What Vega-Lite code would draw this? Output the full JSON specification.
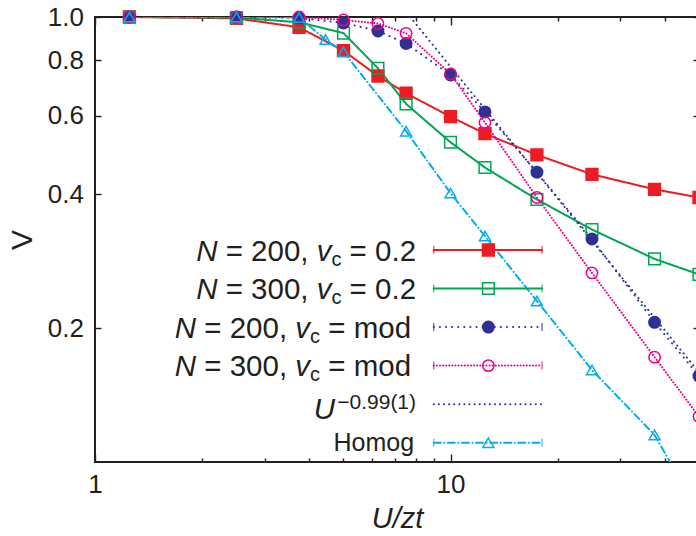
{
  "$schema": "https://vega.github.io/schema/vega-lite/v6.json",
  "width": 604,
  "height": 445,
  "autosize": "none",
  "padding": {"left": 95, "top": 17, "right": 0, "bottom": 74},
  "background": "white",
  "config": {
    "font": "Liberation Sans",
    "view": {"stroke": "#231f20", "strokeWidth": 2},
    "axis": {"domain": false, "grid": false, "tickColor": "#231f20", "tickWidth": 1.4, "labelColor": "#231f20", "titleColor": "#231f20", "labelFontSize": 26, "labelFont": "Liberation Sans", "titleFont": "Liberation Sans", "titleFontWeight": "normal"}
  },
  "datasets": {
    "series": [
      {"series": "N200_02", "x": 1.25, "V": 1.0}, {"series": "N200_02", "x": 2.5, "V": 0.993}, {"series": "N200_02", "x": 3.75, "V": 0.948}, {"series": "N200_02", "x": 5, "V": 0.84}, {"series": "N200_02", "x": 6.25, "V": 0.737}, {"series": "N200_02", "x": 7.5, "V": 0.674}, {"series": "N200_02", "x": 10, "V": 0.597}, {"series": "N200_02", "x": 12.5, "V": 0.547}, {"series": "N200_02", "x": 17.5, "V": 0.49}, {"series": "N200_02", "x": 25, "V": 0.443}, {"series": "N200_02", "x": 37.5, "V": 0.41}, {"series": "N200_02", "x": 50, "V": 0.393},
      {"series": "N300_02", "x": 1.25, "V": 1.0}, {"series": "N300_02", "x": 2.5, "V": 0.997}, {"series": "N300_02", "x": 3.75, "V": 0.973}, {"series": "N300_02", "x": 5, "V": 0.92}, {"series": "N300_02", "x": 6.25, "V": 0.767}, {"series": "N300_02", "x": 7.5, "V": 0.638}, {"series": "N300_02", "x": 10, "V": 0.523}, {"series": "N300_02", "x": 12.5, "V": 0.459}, {"series": "N300_02", "x": 17.5, "V": 0.389}, {"series": "N300_02", "x": 25, "V": 0.333}, {"series": "N300_02", "x": 37.5, "V": 0.286}, {"series": "N300_02", "x": 50, "V": 0.264},
      {"series": "N200_mod", "x": 1.25, "V": 1.0}, {"series": "N200_mod", "x": 2.5, "V": 1.0}, {"series": "N200_mod", "x": 3.75, "V": 0.995}, {"series": "N200_mod", "x": 5, "V": 0.97}, {"series": "N200_mod", "x": 6.25, "V": 0.93}, {"series": "N200_mod", "x": 7.5, "V": 0.872}, {"series": "N200_mod", "x": 10, "V": 0.741}, {"series": "N200_mod", "x": 12.5, "V": 0.612}, {"series": "N200_mod", "x": 17.5, "V": 0.448}, {"series": "N200_mod", "x": 25, "V": 0.317}, {"series": "N200_mod", "x": 37.5, "V": 0.206}, {"series": "N200_mod", "x": 50, "V": 0.156},
      {"series": "N300_mod", "x": 1.25, "V": 1.0}, {"series": "N300_mod", "x": 2.5, "V": 1.0}, {"series": "N300_mod", "x": 3.75, "V": 1.0}, {"series": "N300_mod", "x": 5, "V": 0.985}, {"series": "N300_mod", "x": 6.25, "V": 0.967}, {"series": "N300_mod", "x": 7.5, "V": 0.919}, {"series": "N300_mod", "x": 10, "V": 0.745}, {"series": "N300_mod", "x": 12.5, "V": 0.579}, {"series": "N300_mod", "x": 17.5, "V": 0.393}, {"series": "N300_mod", "x": 25, "V": 0.266}, {"series": "N300_mod", "x": 37.5, "V": 0.172}, {"series": "N300_mod", "x": 50, "V": 0.1265},
      {"series": "Homog", "x": 1.25, "V": 1.0}, {"series": "Homog", "x": 2.5, "V": 1.0}, {"series": "Homog", "x": 3.75, "V": 0.998}, {"series": "Homog", "x": 4.45, "V": 0.89}, {"series": "Homog", "x": 5, "V": 0.835}, {"series": "Homog", "x": 7.5, "V": 0.554}, {"series": "Homog", "x": 10, "V": 0.402}, {"series": "Homog", "x": 12.5, "V": 0.322}, {"series": "Homog", "x": 17.5, "V": 0.23}, {"series": "Homog", "x": 25, "V": 0.161}, {"series": "Homog", "x": 37.5, "V": 0.115}, {"series": "Homog", "x": 50, "V": 0.077},
      {"series": "fit", "x": 7.7, "V": 1.0}, {"series": "fit", "x": 50, "V": 0.159}
    ],
    "legend": [
      {"series": "N200_02", "pN": "N", "pB": "= 200,", "pV": "v", "pC": "c", "pE": "= 0.2"},
      {"series": "N300_02", "pN": "N", "pB": "= 300,", "pV": "v", "pC": "c", "pE": "= 0.2"},
      {"series": "N200_mod", "pN": "N", "pB": "= 200,", "pV": "v", "pC": "c", "pE": "= mod"},
      {"series": "N300_mod", "pN": "N", "pB": "= 300,", "pV": "v", "pC": "c", "pE": "= mod"},
      {"series": "fit", "pU": "U", "pSup": "−0.99(1)"},
      {"series": "Homog", "pH": "Homog"}
    ]
  },
  "layer": [
    {
      "data": {"name": "series"},
      "transform": [{"filter": "datum.series == 'fit'"}],
      "mark": {"type": "line", "clip": true, "strokeCap": "round"},
      "encoding": {
        "x": {"field": "x", "type": "quantitative", "scale": {"type": "log", "domain": [1, 50], "nice": false},
              "axis": {"orient": "top", "values": [1, 2, 3, 4, 5, 6, 7, 8, 9, 10, 20, 30, 40, 50], "labels": false, "title": null,
                       "tickSize": {"condition": {"test": "datum.value == 1 || datum.value == 10", "value": -8}, "value": -4}}},
        "y": {"field": "V", "type": "quantitative", "scale": {"type": "log", "domain": [0.1, 1], "nice": false},
              "axis": {"orient": "right", "values": [0.2, 0.4, 0.6, 0.8, 1.0], "labels": false, "title": null, "tickSize": -6}},
        "color": {"field": "series", "type": "nominal", "legend": null,
                  "scale": {"domain": ["N200_02", "N300_02", "N200_mod", "N300_mod", "fit", "Homog"], "range": ["#ed1c24", "#00a651", "#2e3192", "#ec008c", "#2e3192", "#00aeef"]}},
        "strokeDash": {"field": "series", "type": "nominal", "legend": null,
                  "scale": {"domain": ["N200_02", "N300_02", "N200_mod", "N300_mod", "fit", "Homog"], "range": [[1, 0], [1, 0], [0.1, 6], [0.1, 3], [0.1, 5], [7, 3.5, 0.1, 3.5]]}},
        "strokeWidth": {"field": "series", "type": "nominal", "legend": null,
                  "scale": {"domain": ["N200_02", "N300_02", "N200_mod", "N300_mod", "fit", "Homog"], "range": [2, 2, 2.6, 1.6, 2.2, 1.6]}}
      }
    },
    {
      "data": {"name": "series"},
      "encoding": {
        "x": {"field": "x", "type": "quantitative", "scale": {"type": "log", "domain": [1, 50], "nice": false},
              "axis": {"orient": "bottom", "values": [1, 2, 3, 4, 5, 6, 7, 8, 9, 10, 20, 30, 40, 50], "format": "d",
                       "labelExpr": "(datum.value == 1 || datum.value == 10) ? datum.label : ''", "labelFlush": false, "labelOverlap": false,
                       "tickSize": {"condition": {"test": "datum.value == 1 || datum.value == 10", "value": -8}, "value": -4},
                       "labelPadding": 17, "title": "U/zt", "titleFontStyle": "italic", "titleFontSize": 29, "titlePadding": 3}},
        "y": {"field": "V", "type": "quantitative", "scale": {"type": "log", "domain": [0.1, 1], "nice": false},
              "axis": {"orient": "left", "values": [0.2, 0.4, 0.6, 0.8, 1.0], "format": ".1f", "tickSize": -6, "labelPadding": 17.5,
                       "title": "V", "titleFontSize": 30, "titlePadding": 10}}
      },
      "layer": [
        {
          "mark": {"type": "line", "clip": true, "strokeCap": "round"},
          "transform": [{"filter": "datum.series != 'fit'"}],
          "encoding": {
            "color": {"field": "series", "type": "nominal", "legend": null,
                      "scale": {"domain": ["N200_02", "N300_02", "N200_mod", "N300_mod", "fit", "Homog"], "range": ["#ed1c24", "#00a651", "#2e3192", "#ec008c", "#2e3192", "#00aeef"]}},
            "strokeDash": {"field": "series", "type": "nominal", "legend": null,
                      "scale": {"domain": ["N200_02", "N300_02", "N200_mod", "N300_mod", "fit", "Homog"], "range": [[1, 0], [1, 0], [0.1, 6], [0.1, 3], [0.1, 5], [7, 3.5, 0.1, 3.5]]}},
            "strokeWidth": {"field": "series", "type": "nominal", "legend": null,
                      "scale": {"domain": ["N200_02", "N300_02", "N200_mod", "N300_mod", "fit", "Homog"], "range": [2, 2, 2.6, 1.6, 2.2, 1.6]}}
          }
        },
        {
          "mark": {"type": "point", "filled": false, "opacity": 1, "strokeWidth": 1.5},
          "transform": [{"filter": "datum.series != 'fit' && datum.V >= 0.1"}],
          "encoding": {
            "stroke": {"field": "series", "type": "nominal", "legend": null,
                      "scale": {"domain": ["N200_02", "N300_02", "N200_mod", "N300_mod", "fit", "Homog"], "range": ["#ed1c24", "#00a651", "#2e3192", "#ec008c", "#2e3192", "#00aeef"]}},
            "fill": {"field": "series", "type": "nominal", "legend": null,
                      "scale": {"domain": ["N200_02", "N300_02", "N200_mod", "N300_mod", "fit", "Homog"], "range": ["#ed1c24", "transparent", "#2e3192", "transparent", "transparent", "transparent"]}},
            "shape": {"field": "series", "type": "nominal", "legend": null,
                      "scale": {"domain": ["N200_02", "N300_02", "N200_mod", "N300_mod", "fit", "Homog"], "range": ["square", "square", "circle", "circle", "circle", "triangle-up"]}},
            "size": {"field": "series", "type": "nominal", "legend": null,
                      "scale": {"domain": ["N200_02", "N300_02", "N200_mod", "N300_mod", "fit", "Homog"], "range": [140, 120, 95, 110, 95, 110]}}
          }
        }
      ]
    },
    {
      "data": {"name": "legend"},
      "encoding": {
        "y": {"field": "series", "type": "nominal", "axis": null,
              "scale": {"type": "point", "domain": ["N200_02", "N300_02", "N200_mod", "N300_mod", "fit", "Homog"], "range": [233, 425.7], "padding": 0}}
      },
      "layer": [
        {
          "mark": {"type": "rule", "strokeCap": "round"},
          "encoding": {
            "x": {"datum": 8.97, "type": "quantitative", "axis": null},
            "x2": {"datum": 18.09},
            "color": {"field": "series", "type": "nominal", "legend": null},
            "strokeDash": {"field": "series", "type": "nominal", "legend": null},
            "strokeWidth": {"field": "series", "type": "nominal", "legend": null}
          }
        },
        {
          "mark": {"type": "tick", "thickness": 1.4, "size": 8},
          "transform": [{"filter": "datum.series != 'fit'"}],
          "encoding": {
            "x": {"datum": 8.97, "type": "quantitative", "axis": null},
            "color": {"field": "series", "type": "nominal", "legend": null}
          }
        },
        {
          "mark": {"type": "tick", "thickness": 1.4, "size": 8},
          "transform": [{"filter": "datum.series != 'fit'"}],
          "encoding": {
            "x": {"datum": 18.09, "type": "quantitative", "axis": null},
            "color": {"field": "series", "type": "nominal", "legend": null}
          }
        },
        {
          "mark": {"type": "point", "filled": false, "opacity": 1, "strokeWidth": 1.5},
          "transform": [{"filter": "datum.series != 'fit'"}],
          "encoding": {
            "x": {"datum": 12.78, "type": "quantitative", "axis": null},
            "stroke": {"field": "series", "type": "nominal", "legend": null},
            "fill": {"field": "series", "type": "nominal", "legend": null},
            "shape": {"field": "series", "type": "nominal", "legend": null},
            "size": {"field": "series", "type": "nominal", "legend": null}
          }
        },
        {
          "mark": {"type": "text", "align": "right", "baseline": "alphabetic", "fontSize": 29.5, "color": "#231f20", "dy": 10.5,
                   "dx": {"expr": "datum.pE == '= mod' ? -5 : 0"}},
          "transform": [{"filter": "isValid(datum.pE)"}],
          "encoding": {"x": {"datum": 8, "type": "quantitative", "axis": null}, "text": {"field": "pE"}}
        },
        {
          "mark": {"type": "text", "align": "right", "baseline": "alphabetic", "fontSize": 20, "color": "#231f20", "dy": 15.5,
                   "dx": {"expr": "datum.pE == '= mod' ? -96 : -74.6"}},
          "transform": [{"filter": "isValid(datum.pC)"}],
          "encoding": {"x": {"datum": 8, "type": "quantitative", "axis": null}, "text": {"field": "pC"}}
        },
        {
          "mark": {"type": "text", "align": "right", "baseline": "alphabetic", "fontSize": 29.5, "fontStyle": "italic", "color": "#231f20", "dy": 10.5,
                   "dx": {"expr": "datum.pE == '= mod' ? -106 : -84.6"}},
          "transform": [{"filter": "isValid(datum.pV)"}],
          "encoding": {"x": {"datum": 8, "type": "quantitative", "axis": null}, "text": {"field": "pV"}}
        },
        {
          "mark": {"type": "text", "align": "right", "baseline": "alphabetic", "fontSize": 29.5, "color": "#231f20", "dy": 10.5,
                   "dx": {"expr": "datum.pE == '= mod' ? -128.95 : -107.55"}},
          "transform": [{"filter": "isValid(datum.pB)"}],
          "encoding": {"x": {"datum": 8, "type": "quantitative", "axis": null}, "text": {"field": "pB"}}
        },
        {
          "mark": {"type": "text", "align": "right", "baseline": "alphabetic", "fontSize": 29.5, "fontStyle": "italic", "color": "#231f20", "dy": 10.5,
                   "dx": {"expr": "datum.pE == '= mod' ? -220 : -198.6"}},
          "transform": [{"filter": "isValid(datum.pN)"}],
          "encoding": {"x": {"datum": 8, "type": "quantitative", "axis": null}, "text": {"field": "pN"}}
        },
        {
          "mark": {"type": "text", "align": "right", "baseline": "alphabetic", "fontSize": 21, "color": "#231f20", "dy": 4.5, "dx": 0},
          "transform": [{"filter": "isValid(datum.pSup)"}],
          "encoding": {"x": {"datum": 8, "type": "quantitative", "axis": null}, "text": {"field": "pSup"}}
        },
        {
          "mark": {"type": "text", "align": "right", "baseline": "alphabetic", "fontSize": 29.5, "fontStyle": "italic", "color": "#231f20", "dy": 15, "dx": -81},
          "transform": [{"filter": "isValid(datum.pU)"}],
          "encoding": {"x": {"datum": 8, "type": "quantitative", "axis": null}, "text": {"field": "pU"}}
        },
        {
          "mark": {"type": "text", "align": "right", "baseline": "alphabetic", "fontSize": 25, "color": "#231f20", "dy": 8.5, "dx": -2},
          "transform": [{"filter": "isValid(datum.pH)"}],
          "encoding": {"x": {"datum": 8, "type": "quantitative", "axis": null}, "text": {"field": "pH"}}
        }
      ]
    }
  ],
  "resolve": {"scale": {"y": "independent"}, "axis": {"x": "independent", "y": "independent"}}
}
